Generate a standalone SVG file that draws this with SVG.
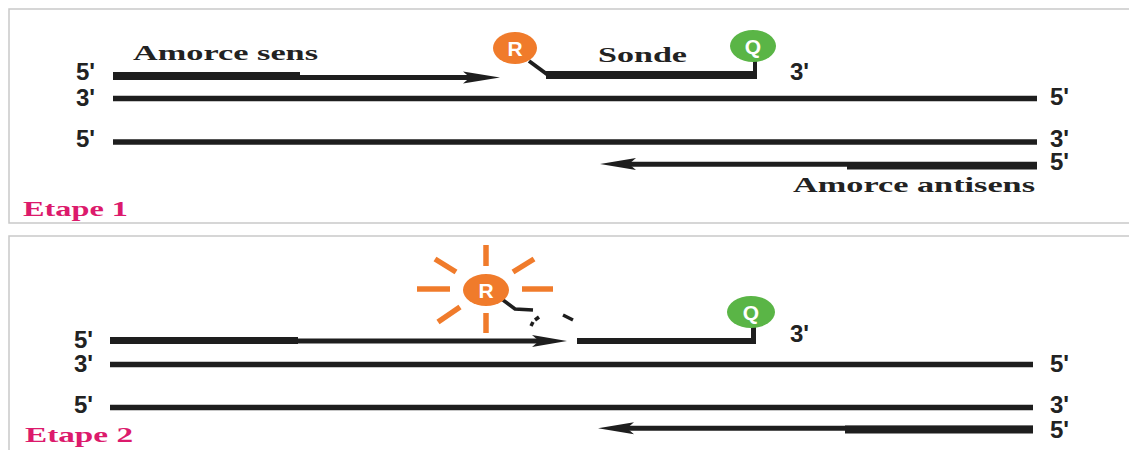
<svg xmlns="http://www.w3.org/2000/svg" width="1129" height="450" viewBox="0 0 1129 450">
<style>
.panel{fill:#fff;stroke:#c9c9c9;stroke-width:1.5}
.lbl{font-family:"Liberation Sans",Arial,sans-serif;font-weight:bold;font-size:24px;fill:#222}
.ser{font-family:"Liberation Serif","Times New Roman",serif;font-weight:bold;font-size:22px;fill:#222}
.etape{font-family:"Liberation Serif","Times New Roman",serif;font-weight:bold;font-size:22px;fill:#dc1a6c}
.strand{stroke:#1e1e1e;stroke-width:5.5;fill:none}
.thin{stroke:#1e1e1e;stroke-width:5;fill:none}
.blk{fill:#1e1e1e}
.ray{stroke:#f07b2b;stroke-width:5.5;fill:none}
.rep{fill:#f07b2b}
.qch{fill:#5ab546}
.let{font-family:"Liberation Sans",Arial,sans-serif;font-weight:bold;font-size:21px;fill:#fff;text-anchor:middle}
</style>
<rect width="1129" height="450" fill="#fff"/>
<rect id="panel1" class="panel" x="9" y="9" width="1130" height="214"/>
<rect id="panel2" class="panel" x="9" y="236" width="1130" height="220"/>

<g id="connectors">
  <!-- Etape 1 -->
  <rect class="blk" x="113" y="72" width="187" height="8"/>
  <line class="thin" x1="300" y1="77.5" x2="475" y2="77.5"/>
  <path class="blk" d="M500,77.5 L463,71.5 L470,77.5 L463,83.5 Z"/>
  <line class="strand" x1="113" y1="98.5" x2="1037" y2="98.5"/>
  <line class="strand" x1="113" y1="142" x2="1037" y2="142"/>
  <line class="thin" x1="625" y1="164.2" x2="1037" y2="164.2"/>
  <rect class="blk" x="847" y="162" width="190" height="7.5"/>
  <path class="blk" d="M600,164 L636,158 L629,164 L636,170 Z"/>
  <!-- Etape 2 -->
  <rect class="blk" x="110" y="337" width="188" height="7"/>
  <line class="thin" x1="298" y1="341" x2="545" y2="341"/>
  <path class="blk" d="M567,341 L532,335 L539,341 L532,347 Z"/>
  <line class="strand" x1="110" y1="364.5" x2="1033" y2="364.5"/>
  <line class="strand" x1="110" y1="407.5" x2="1033" y2="407.5"/>
  <line class="thin" x1="625" y1="428.3" x2="1033" y2="428.3"/>
  <rect class="blk" x="845" y="425.5" width="188" height="8"/>
  <path class="blk" d="M598,428.3 L634,422.3 L627,428.3 L634,434.3 Z"/>
</g>

<g id="probe1">
  <path d="M529,61 L548,75" stroke="#1e1e1e" stroke-width="4" fill="none"/>
  <rect class="blk" x="546" y="71" width="211" height="8"/>
  <rect class="blk" x="753" y="58" width="4" height="21"/>
  <ellipse class="rep" cx="515" cy="48" rx="22" ry="16"/>
  <text class="let" x="515" y="55.5">R</text>
  <ellipse class="qch" cx="753" cy="46" rx="23" ry="16"/>
  <text class="let" x="753" y="53.5">Q</text>
</g>

<g id="probe2">
  <path d="M503,300 L515,309 L533,310" stroke="#1e1e1e" stroke-width="3.5" fill="none"/>
  <path d="M531,326 L533,322 M535,320 L539,317 M563,315 L573,320" stroke="#1e1e1e" stroke-width="3.5" fill="none"/>
  <rect class="blk" x="577" y="338" width="179" height="6"/>
  <rect class="blk" x="751" y="324" width="5" height="20"/>
  <g id="sun">
    <line class="ray" x1="486" y1="245" x2="486" y2="266"/>
    <line class="ray" x1="486" y1="313" x2="486" y2="333"/>
    <line class="ray" x1="417" y1="289" x2="450" y2="289"/>
    <line class="ray" x1="522" y1="289" x2="553" y2="289"/>
    <line class="ray" x1="435" y1="259" x2="456" y2="272"/>
    <line class="ray" x1="513" y1="272" x2="534" y2="259"/>
    <line class="ray" x1="438" y1="322" x2="460" y2="307"/>
  </g>
  <ellipse class="rep" cx="486" cy="290" rx="23" ry="16"/>
  <text class="let" x="486" y="297.5">R</text>
  <ellipse class="qch" cx="751" cy="312" rx="24" ry="16"/>
  <text class="let" x="751" y="319.5">Q</text>
</g>

<g id="labels1">
  <text class="ser" x="133" y="60" textLength="185" lengthAdjust="spacingAndGlyphs">Amorce sens</text>
  <text class="ser" x="598" y="62" textLength="89" lengthAdjust="spacingAndGlyphs">Sonde</text>
  <text class="ser" x="793" y="192" textLength="242" lengthAdjust="spacingAndGlyphs">Amorce antisens</text>
  <text class="etape" x="23" y="216" textLength="105" lengthAdjust="spacingAndGlyphs">Etape 1</text>
  <text class="lbl" x="76" y="80">5'</text>
  <text class="lbl" x="76" y="106">3'</text>
  <text class="lbl" x="76" y="147">5'</text>
  <text class="lbl" x="790" y="80">3'</text>
  <text class="lbl" x="1050" y="105">5'</text>
  <text class="lbl" x="1050" y="147">3'</text>
  <text class="lbl" x="1050" y="170">5'</text>
</g>

<g id="labels2">
  <text class="etape" x="25" y="442" textLength="108" lengthAdjust="spacingAndGlyphs">Etape 2</text>
  <text class="lbl" x="74" y="348">5'</text>
  <text class="lbl" x="74" y="372">3'</text>
  <text class="lbl" x="74" y="413">5'</text>
  <text class="lbl" x="790" y="342">3'</text>
  <text class="lbl" x="1050" y="372">5'</text>
  <text class="lbl" x="1050" y="413">3'</text>
  <text class="lbl" x="1050" y="438">5'</text>
</g>
</svg>
